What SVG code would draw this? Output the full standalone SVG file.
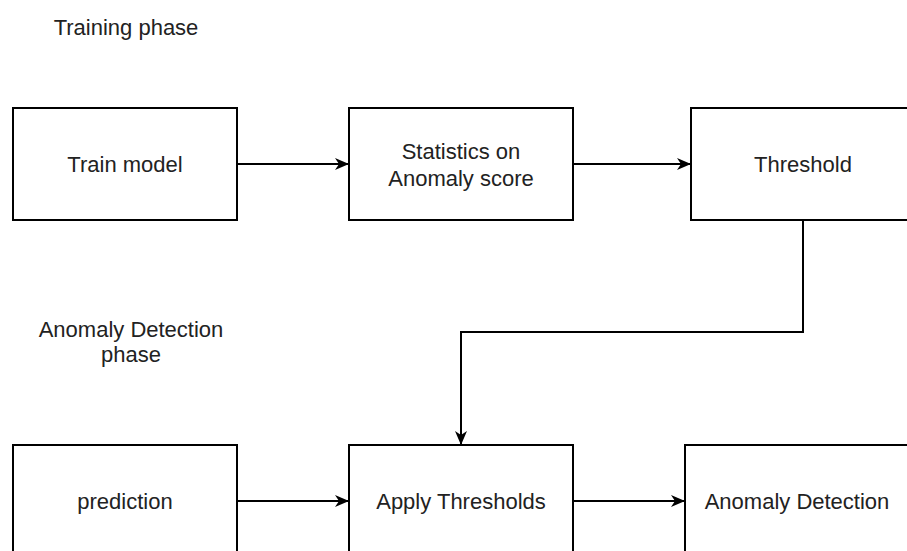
<svg xmlns="http://www.w3.org/2000/svg" width="907" height="551" viewBox="0 0 907 551">
  <style>
    .box { fill: #ffffff; stroke: #000000; stroke-width: 2; }
    .lbl { font-family: "Liberation Sans", Arial, sans-serif; font-size: 22px; fill: #222222; text-anchor: middle; }
    .edge { fill: none; stroke: #000000; stroke-width: 2; }
  </style>
  <defs>
    <marker id="arrow" viewBox="0 0 14 12" refX="13" refY="6" markerWidth="14" markerHeight="12" markerUnits="userSpaceOnUse" orient="auto">
      <path d="M0,0 L14,6 L0,12 L4,6 Z" fill="#000000"/>
    </marker>
  </defs>
  <rect width="907" height="551" fill="#ffffff"/>

  <text class="lbl" x="126" y="35">Training phase</text>
  <text class="lbl" x="131" y="337">Anomaly Detection</text>
  <text class="lbl" x="131" y="362">phase</text>

  <g id="train-model">
    <rect class="box" x="13" y="108" width="224" height="112"/>
    <text class="lbl" x="125" y="172">Train model</text>
  </g>
  <g id="statistics">
    <rect class="box" x="349" y="108" width="224" height="112"/>
    <text class="lbl" x="461" y="159">Statistics on</text>
    <text class="lbl" x="461" y="186">Anomaly score</text>
  </g>
  <g id="threshold">
    <rect class="box" x="691" y="108" width="224" height="112"/>
    <text class="lbl" x="803" y="172">Threshold</text>
  </g>
  <g id="prediction">
    <rect class="box" x="13" y="445" width="224" height="112"/>
    <text class="lbl" x="125" y="509">prediction</text>
  </g>
  <g id="apply-thresholds">
    <rect class="box" x="349" y="445" width="224" height="112"/>
    <text class="lbl" x="461" y="509">Apply Thresholds</text>
  </g>
  <g id="anomaly-detection">
    <rect class="box" x="685" y="445" width="224" height="112"/>
    <text class="lbl" x="797" y="509">Anomaly Detection</text>
  </g>

  <g id="connectors">
    <path class="edge" d="M237,164 H348" marker-end="url(#arrow)"/>
    <path class="edge" d="M573,164 H690" marker-end="url(#arrow)"/>
    <path class="edge" d="M803,220 V332 H461 V444" marker-end="url(#arrow)"/>
    <path class="edge" d="M237,501 H348" marker-end="url(#arrow)"/>
    <path class="edge" d="M573,501 H684" marker-end="url(#arrow)"/>
  </g>
</svg>
